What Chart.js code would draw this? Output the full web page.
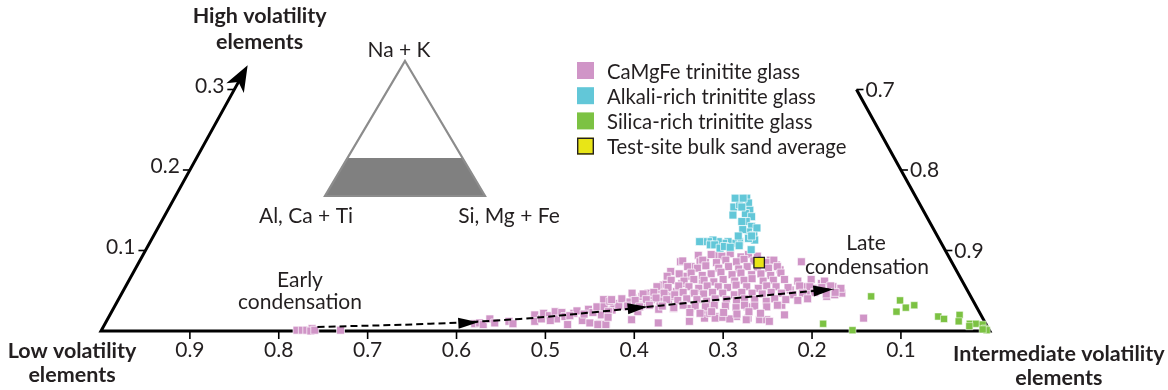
<!DOCTYPE html>
<html>
<head>
<meta charset="utf-8">
<script src="https://cdn.jsdelivr.net/npm/chart.js@4.4.0/dist/chart.umd.min.js"></script>
<style>
  html, body { margin: 0; padding: 0; background: #fff; }
  #wrap { width: 1168px; height: 390px; position: relative; }
</style>
</head>
<body>
<div id="wrap"><canvas id="ternary"></canvas></div>
<script>
// every composition is [low, high]; intermediate = 1 - low - high
const lowTicks = [0.9, 0.8, 0.7, 0.6, 0.5, 0.4, 0.3, 0.2, 0.1];
const highTicks = [0.1, 0.2, 0.3];
const interTicks = [0.9, 0.8, 0.7];

const camgfeGlass = [
  // tail along the low-volatility edge
  [0.779, 0.001], [0.773, 0.001], [0.768, 0.001], [0.761, 0.003], [0.764, 0.000], [0.759, 0.001], [0.730, 0.001],
  [0.575, 0.009], [0.569, 0.010], [0.566, 0.008], [0.555, 0.015], [0.552, 0.010], [0.535, 0.012], [0.532, 0.009],
  [0.502, 0.020], [0.506, 0.012], [0.497, 0.015], [0.491, 0.022], [0.486, 0.019], [0.477, 0.024], [0.480, 0.015],
  [0.470, 0.023], [0.469, 0.018], [0.471, 0.008], [0.457, 0.022], [0.452, 0.025], [0.452, 0.013], [0.438, 0.027],
  [0.445, 0.010], [0.435, 0.023], [0.428, 0.028], [0.435, 0.009], [0.427, 0.009],
  [0.415, 0.039], [0.427, 0.030], [0.427, 0.020], [0.437, 0.008], [0.428, 0.008], [0.412, 0.026], [0.399, 0.034],
  [0.393, 0.030], [0.381, 0.041], [0.376, 0.032], [0.361, 0.047], [0.361, 0.039], [0.368, 0.010], [0.346, 0.051],
  [0.339, 0.057], [0.336, 0.047], [0.342, 0.039], [0.325, 0.051], [0.342, 0.028], [0.323, 0.028], [0.312, 0.018],
  [0.301, 0.028], [0.298, 0.018], [0.301, 0.051],
  [0.305, 0.086], [0.322, 0.074], [0.329, 0.068], [0.335, 0.058], [0.299, 0.076], [0.281, 0.094], [0.277, 0.086],
  [0.419, 0.030], [0.417, 0.024], [0.406, 0.034], [0.402, 0.031], [0.396, 0.014], [0.379, 0.030], [0.357, 0.044],
  [0.353, 0.036], [0.335, 0.043], [0.328, 0.049], [0.317, 0.059], [0.307, 0.068], [0.332, 0.012], [0.296, 0.080],
  [0.310, 0.047], [0.283, 0.086], [0.292, 0.063], [0.311, 0.022], [0.313, 0.016], [0.304, 0.022], [0.301, 0.016],
  [0.260, 0.094], [0.252, 0.092], [0.276, 0.018], [0.258, 0.030], [0.264, 0.016], [0.252, 0.014], [0.244, 0.014],
  [0.203, 0.088], [0.199, 0.082], [0.198, 0.076], [0.221, 0.020], [0.199, 0.051], [0.169, 0.086], [0.180, 0.055],
  [0.172, 0.053], [0.160, 0.059], [0.154, 0.051], [0.149, 0.047], [0.143, 0.047], [0.149, 0.055], [0.134, 0.016],
  [0.267, 0.014], [0.242, 0.012], [0.218, 0.032],
  [0.183, 0.047], [0.166, 0.051], [0.162, 0.043], [0.152, 0.045], [0.155, 0.061],
  [0.488, 0.013], [0.463, 0.019], [0.446, 0.021], [0.421, 0.017], [0.409, 0.037], [0.387, 0.036], [0.370, 0.043],
  [0.349, 0.042], [0.384, 0.024], [0.359, 0.027], [0.292, 0.017], [0.285, 0.015],
  // main cluster
  [0.266, 0.095], [0.255, 0.093], [0.244, 0.096], [0.234, 0.092], [0.224, 0.095], [0.215, 0.093],
  [0.302, 0.087], [0.279, 0.088], [0.265, 0.085], [0.253, 0.088], [0.242, 0.086], [0.232, 0.089], [0.222, 0.087],
  [0.208, 0.085], [0.199, 0.088],
  [0.300, 0.080], [0.290, 0.078], [0.279, 0.081], [0.266, 0.078], [0.254, 0.080], [0.244, 0.077], [0.233, 0.080],
  [0.222, 0.079], [0.210, 0.078], [0.199, 0.080],
  [0.314, 0.071], [0.300, 0.072], [0.289, 0.069], [0.278, 0.071], [0.266, 0.073], [0.255, 0.070], [0.244, 0.072],
  [0.233, 0.070], [0.222, 0.071], [0.212, 0.069], [0.199, 0.072],
  [0.327, 0.063], [0.313, 0.062], [0.301, 0.064], [0.290, 0.063], [0.280, 0.061], [0.268, 0.064], [0.256, 0.062],
  [0.245, 0.063], [0.235, 0.065], [0.224, 0.062], [0.212, 0.063], [0.199, 0.064], [0.185, 0.062], [0.169, 0.064],
  [0.155, 0.062],
  [0.347, 0.055], [0.335, 0.054], [0.322, 0.056], [0.311, 0.055], [0.301, 0.053], [0.290, 0.056], [0.278, 0.055],
  [0.268, 0.054], [0.257, 0.057], [0.246, 0.055], [0.234, 0.053], [0.223, 0.056], [0.213, 0.055], [0.200, 0.054],
  [0.186, 0.056], [0.175, 0.055], [0.162, 0.054], [0.151, 0.056], [0.141, 0.053],
  [0.379, 0.047], [0.367, 0.046], [0.354, 0.048], [0.343, 0.047], [0.332, 0.045], [0.321, 0.048], [0.309, 0.047],
  [0.299, 0.046], [0.288, 0.048], [0.277, 0.047], [0.265, 0.045], [0.255, 0.048], [0.244, 0.047], [0.233, 0.046],
  [0.222, 0.048], [0.211, 0.047], [0.199, 0.045], [0.187, 0.047], [0.173, 0.048], [0.161, 0.046], [0.150, 0.048],
  [0.406, 0.039], [0.394, 0.040], [0.380, 0.038], [0.367, 0.039], [0.355, 0.041], [0.344, 0.039], [0.332, 0.038],
  [0.321, 0.040], [0.310, 0.039], [0.300, 0.037], [0.289, 0.040], [0.277, 0.039], [0.266, 0.038], [0.256, 0.040],
  [0.245, 0.039], [0.233, 0.037], [0.222, 0.040], [0.210, 0.039], [0.197, 0.038], [0.185, 0.040],
  [0.392, 0.031], [0.379, 0.030], [0.367, 0.032], [0.353, 0.031], [0.341, 0.029], [0.329, 0.032], [0.316, 0.031],
  [0.305, 0.030], [0.294, 0.032], [0.282, 0.031], [0.271, 0.029], [0.260, 0.032], [0.249, 0.031], [0.236, 0.030],
  [0.223, 0.032],
  [0.326, 0.023], [0.315, 0.022], [0.301, 0.024], [0.288, 0.023], [0.274, 0.021], [0.259, 0.024], [0.247, 0.022]
];

const alkaliGlass = [
  [0.211, 0.154], [0.203, 0.157], [0.191, 0.165], [0.192, 0.159], [0.195, 0.150], [0.202, 0.146], [0.197, 0.142],
  [0.206, 0.136], [0.203, 0.130], [0.210, 0.123], [0.206, 0.119], [0.208, 0.113], [0.214, 0.115], [0.226, 0.111],
  [0.234, 0.109], [0.239, 0.111], [0.245, 0.109], [0.250, 0.111], [0.255, 0.113], [0.261, 0.111], [0.267, 0.111],
  [0.261, 0.107], [0.256, 0.107], [0.252, 0.103], [0.246, 0.105], [0.218, 0.101], [0.211, 0.136], [0.215, 0.126],
  [0.204, 0.165], [0.195, 0.165], [0.202, 0.154], [0.217, 0.144], [0.271, 0.111], [0.224, 0.118], [0.229, 0.106],
  [0.240, 0.104], [0.198, 0.128], [0.209, 0.118]
];

const silicaGlass = [
  [0.112, 0.043], [0.082, 0.038], [0.093, 0.024], [0.080, 0.029], [0.069, 0.032], [0.049, 0.018], [0.044, 0.015],
  [0.024, 0.020], [0.029, 0.012], [0.018, 0.009], [0.011, 0.009], [0.020, 0.006], [0.004, 0.008], [0.004, 0.003],
  [0.003, 0.001], [0.007, 0.002], [0.154, 0.001], [0.183, 0.009]
];

const sandAverage = [[0.217, 0.085]];

// condensation path and the arrowheads sitting on it
const trendLow = [0.754, 0.625, 0.521, 0.427, 0.284, 0.150];
const trendHigh = [0.005, 0.009, 0.015, 0.024, 0.039, 0.052];
const arrowLow = [0.570, 0.370, 0.150];
const arrowHigh = [0.011, 0.030, 0.052];

const INK = '#231f20';
const FONT = 'Lato, "Open Sans", sans-serif';

// ternary -> cartesian, with the low-volatility corner at x = 0
function toXY([low, high]) {
  return { x: 1 - low - high / 2, y: high };
}

const ternaryFrame = {
  id: 'ternaryFrame',
  beforeDatasetsDraw(chart) {
    const { ctx, scales: { x, y } } = chart;
    const px = (low, high) => ({ x: x.getPixelForValue(1 - low - high / 2), y: y.getPixelForValue(high) });
    ctx.save();

    // small key triangle
    ctx.fillStyle = '#808080';
    ctx.beginPath();
    ctx.moveTo(325, 196); ctx.lineTo(485, 196); ctx.lineTo(462.5, 158); ctx.lineTo(347.5, 158);
    ctx.closePath(); ctx.fill();
    ctx.strokeStyle = '#8c8c8c';
    ctx.lineWidth = 2.2;
    ctx.beginPath();
    ctx.moveTo(405, 61); ctx.lineTo(485, 196); ctx.lineTo(325, 196); ctx.closePath();
    ctx.stroke();
    ctx.fillStyle = INK;
    ctx.font = '21px ' + FONT;
    ctx.textAlign = 'center';
    ctx.textBaseline = 'alphabetic';
    ctx.fillText('Na + K', 399, 57);
    ctx.fillText('Al, Ca + Ti', 306, 223);
    ctx.fillText('Si, Mg + Fe', 509, 223);

    // triangle edges
    const left = px(1, 0), right = px(0, 0), rightTop = px(0, 0.3);
    const tip = px(0.67, 0.33);
    const dx = tip.x - left.x, dy = tip.y - left.y, len = Math.hypot(dx, dy);
    const ux = dx / len, uy = dy / len, nx = -uy, ny = ux;
    ctx.strokeStyle = '#000';
    ctx.lineWidth = 3;
    ctx.lineJoin = 'miter';
    ctx.beginPath();
    ctx.moveTo(tip.x - 18 * ux, tip.y - 18 * uy);
    ctx.lineTo(left.x, left.y);
    ctx.lineTo(right.x, right.y);
    ctx.lineTo(rightTop.x, rightTop.y);
    ctx.stroke();
    ctx.fillStyle = '#000';
    ctx.beginPath();
    ctx.moveTo(tip.x, tip.y);
    ctx.lineTo(tip.x - 26 * ux + 10 * nx, tip.y - 26 * uy + 10 * ny);
    ctx.lineTo(tip.x - 19 * ux, tip.y - 19 * uy);
    ctx.lineTo(tip.x - 26 * ux - 10 * nx, tip.y - 26 * uy - 10 * ny);
    ctx.closePath();
    ctx.fill();

    // ticks and tick labels
    ctx.lineWidth = 1.6;
    ctx.fillStyle = INK;
    ctx.font = '21px ' + FONT;
    ctx.textAlign = 'center';
    lowTicks.forEach(v => {
      const p = px(v, 0);
      ctx.beginPath(); ctx.moveTo(p.x, p.y + 1); ctx.lineTo(p.x, p.y + 8); ctx.stroke();
      ctx.fillText(v.toFixed(1), p.x, p.y + 26);
    });
    ctx.textAlign = 'right';
    highTicks.forEach(v => {
      const p = px(1 - v, v);
      ctx.beginPath(); ctx.moveTo(p.x - 7, p.y); ctx.lineTo(p.x, p.y); ctx.stroke();
      ctx.fillText(v.toFixed(1), p.x - 10, p.y + 3);
    });
    ctx.textAlign = 'left';
    interTicks.forEach(v => {
      const p = px(0, 1 - v);
      ctx.beginPath(); ctx.moveTo(p.x, p.y); ctx.lineTo(p.x + 7, p.y); ctx.stroke();
      ctx.fillText(v.toFixed(1), p.x + 9, p.y + 7);
    });

    // corner titles
    ctx.font = 'bold 21.5px ' + FONT;
    ctx.textAlign = 'center';
    ctx.fillText('High volatility', tip.x + 12, 23);
    ctx.fillText('elements', tip.x + 12, 49);
    ctx.fillText('Low volatility', left.x - 29, 358);
    ctx.fillText('elements', left.x - 29, 382);
    ctx.fillText('Intermediate volatility', right.x + 69, 361);
    ctx.fillText('elements', right.x + 69, 385);

    // path annotations
    ctx.font = '21px ' + FONT;
    ctx.fillText('Early', 300, 287);
    ctx.fillText('condensation', 300, 309);
    ctx.fillText('Late', 866, 250);
    ctx.fillText('condensation', 867, 274);
    ctx.restore();
  },
  afterDatasetsDraw(chart) {
    const { ctx, scales: { x, y } } = chart;
    const path = trendLow.map((l, i) => ({
      x: x.getPixelForValue(1 - l - trendHigh[i] / 2),
      y: y.getPixelForValue(trendHigh[i])
    }));
    ctx.save();
    ctx.fillStyle = '#000';
    arrowLow.forEach((l, i) => {
      const t = { x: x.getPixelForValue(1 - l - arrowHigh[i] / 2), y: y.getPixelForValue(arrowHigh[i]) };
      let k = path.findIndex(p => p.x >= t.x - 0.5);
      if (k < 1) k = 1;
      const dx = path[k].x - path[k - 1].x, dy = path[k].y - path[k - 1].y, len = Math.hypot(dx, dy);
      const ux = dx / len, uy = dy / len, nx = -uy, ny = ux;
      ctx.beginPath();
      ctx.moveTo(t.x, t.y);
      ctx.lineTo(t.x - 20 * ux + 5.5 * nx, t.y - 20 * uy + 5.5 * ny);
      ctx.lineTo(t.x - 20 * ux - 5.5 * nx, t.y - 20 * uy - 5.5 * ny);
      ctx.closePath();
      ctx.fill();
    });

    // key
    ctx.font = '20.3px ' + FONT;
    ctx.textAlign = 'left';
    ctx.textBaseline = 'alphabetic';
    chart.data.datasets.slice(0, 4).forEach((ds, i) => {
      const cy = 70.5 + i * 25.2;
      ctx.fillStyle = ds.backgroundColor;
      ctx.fillRect(577, cy - 8.5, 17, 17);
      if (i === 3) {
        ctx.strokeStyle = INK;
        ctx.lineWidth = 1.4;
        ctx.strokeRect(577.7, cy - 7.8, 15.6, 15.6);
      }
      ctx.fillStyle = INK;
      ctx.fillText(ds.label, 607, cy + 8);
    });
    ctx.restore();
  }
};

new Chart(document.getElementById('ternary'), {
  type: 'scatter',
  data: {
    datasets: [
      {
        label: 'CaMgFe trinitite glass',
        data: camgfeGlass.map(toXY),
        backgroundColor: '#d095c7',
        borderColor: 'rgba(255, 255, 255, 0.85)',
        borderWidth: 0.8,
        pointStyle: 'rect',
        pointRadius: 5.6,
        order: 4
      },
      {
        label: 'Alkali-rich trinitite glass',
        data: alkaliGlass.map(toXY),
        backgroundColor: '#62c7d8',
        borderColor: 'rgba(255, 255, 255, 0.85)',
        borderWidth: 0.8,
        pointStyle: 'rect',
        pointRadius: 5.6,
        order: 3
      },
      {
        label: 'Silica-rich trinitite glass',
        data: silicaGlass.map(toXY),
        backgroundColor: '#7cc243',
        borderColor: 'rgba(255, 255, 255, 0.85)',
        borderWidth: 0.6,
        pointStyle: 'rect',
        pointRadius: 5,
        order: 5
      },
      {
        label: 'Test-site bulk sand average',
        data: sandAverage.map(toXY),
        backgroundColor: '#e8e517',
        borderColor: INK,
        borderWidth: 1.3,
        pointStyle: 'rect',
        pointRadius: 7.4,
        order: 1
      },
      {
        type: 'line',
        label: 'Condensation path',
        data: trendLow.map((l, i) => toXY([l, trendHigh[i]])),
        borderColor: '#000',
        borderWidth: 2,
        borderDash: [7, 4],
        pointRadius: 0,
        tension: 0.35,
        fill: false,
        order: 0
      }
    ]
  },
  options: {
    responsive: true,
    maintainAspectRatio: false,
    animation: false,
    events: [],
    layout: { padding: 0, autoPadding: false },
    plugins: {
      legend: { display: false },
      tooltip: { enabled: false }
    },
    scales: {
      // 888.8 px per unit along the base, 805 px per unit of high-volatility fraction
      x: { type: 'linear', display: false, min: -101 / 888.8, max: 1067 / 888.8 },
      y: { type: 'linear', display: false, min: -59 / 805, max: 331 / 805 }
    }
  },
  plugins: [ternaryFrame]
});
</script>
</body>
</html>
